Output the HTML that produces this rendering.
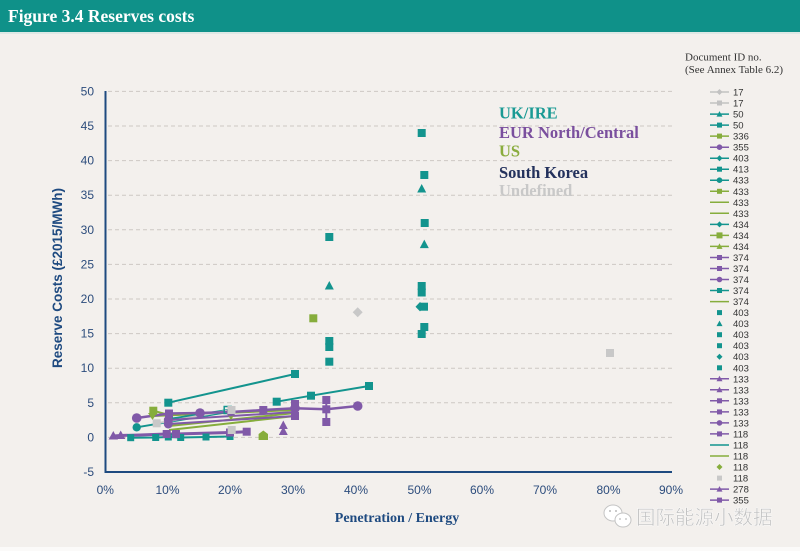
<!DOCTYPE html>
<html>
<head>
<meta charset="utf-8">
<style>
html,body{margin:0;padding:0;background:#f3f0ed;}
body{width:800px;height:551px;overflow:hidden;}
svg{display:block;}
.tk{font-family:"Liberation Sans",sans-serif;font-size:12px;fill:#2c4c7c;}
.lg{font-family:"Liberation Sans",sans-serif;font-size:9.5px;fill:#333;}
.rg{font-family:"Liberation Serif",serif;font-weight:bold;font-size:16.5px;}
</style>
</head>
<body>
<svg width="800" height="551" viewBox="0 0 800 551" xmlns="http://www.w3.org/2000/svg">
<rect x="0" y="0" width="800" height="551" fill="#f3f0ed"/>
<rect x="0" y="0" width="800" height="32" fill="#0f9189"/>
<rect x="0" y="32" width="800" height="2" fill="#dde8e5"/>
<text x="8" y="22" font-family="Liberation Serif, serif" font-weight="bold" font-size="17.5" fill="#ffffff">Figure 3.4 Reserves costs</text>
<rect x="0" y="547" width="800" height="4" fill="#fbfaf9"/>

<!-- gridlines -->
<g stroke="#cdc8c4" stroke-width="1" stroke-dasharray="4 3">
<line x1="108" y1="91.4" x2="672" y2="91.4"/>
<line x1="108" y1="126" x2="672" y2="126"/>
<line x1="108" y1="160.6" x2="672" y2="160.6"/>
<line x1="108" y1="195.2" x2="672" y2="195.2"/>
<line x1="108" y1="229.8" x2="672" y2="229.8"/>
<line x1="108" y1="264.4" x2="672" y2="264.4"/>
<line x1="108" y1="299" x2="672" y2="299"/>
<line x1="108" y1="333.6" x2="672" y2="333.6"/>
<line x1="108" y1="368.2" x2="672" y2="368.2"/>
<line x1="108" y1="402.8" x2="672" y2="402.8"/>
<line x1="108" y1="437.4" x2="672" y2="437.4"/>
</g>

<!-- axes -->
<line x1="105.5" y1="91" x2="105.5" y2="473" stroke="#1e4a80" stroke-width="2"/>
<line x1="104.5" y1="472" x2="672" y2="472" stroke="#1e4a80" stroke-width="2"/>

<!-- y tick labels -->
<g class="tk" text-anchor="end">
<text x="94" y="95.5">50</text>
<text x="94" y="130">45</text>
<text x="94" y="164.6">40</text>
<text x="94" y="199.2">35</text>
<text x="94" y="233.8">30</text>
<text x="94" y="268.4">25</text>
<text x="94" y="303">20</text>
<text x="94" y="337.6">15</text>
<text x="94" y="372.2">10</text>
<text x="94" y="406.8">5</text>
<text x="94" y="441.4">0</text>
<text x="94" y="476">-5</text>
</g>
<!-- x tick labels -->
<g class="tk" text-anchor="middle">
<text x="105.3" y="494">0%</text>
<text x="167.5" y="494">10%</text>
<text x="230" y="494">20%</text>
<text x="293" y="494">30%</text>
<text x="356" y="494">40%</text>
<text x="419.5" y="494">50%</text>
<text x="482" y="494">60%</text>
<text x="545" y="494">70%</text>
<text x="608.5" y="494">80%</text>
<text x="671" y="494">90%</text>
</g>
<text x="397" y="522" text-anchor="middle" font-family="Liberation Serif, serif" font-weight="bold" font-size="14" fill="#1e4a80">Penetration / Energy</text>
<text transform="translate(62,278) rotate(-90)" text-anchor="middle" font-family="Liberation Sans, sans-serif" font-weight="bold" font-size="13.5" fill="#1e4a80">Reserve Costs (£2015/MWh)</text>

<!-- region labels -->
<text class="rg" x="499" y="118.5" fill="#1a9a94">UK/IRE</text>
<text class="rg" x="499" y="138" fill="#7a4f9e">EUR North/Central</text>
<text class="rg" x="499" y="156.5" fill="#8aac3e">US</text>
<text class="rg" x="499" y="178" fill="#23315c">South Korea</text>
<text class="rg" x="499" y="196" fill="#c8c8c8">Undefined</text>

<!-- ===== DATA ===== -->
<g stroke="#86ad3c" stroke-width="2" fill="none">
<polyline points="153,416 295,410"/>
<polyline points="169,426 295,413"/>
<polyline points="169,430 295,416"/>
<polyline points="153.3,410.7 169,415 231,412"/>
</g>
<g stroke="#13948e" stroke-width="2" fill="none">
<polyline points="168.3,402.7 295,374"/>
<polyline points="276.7,401.7 311,395.7 369,386"/>
<polyline points="130.7,437.7 155.7,437.5 168.3,437 180.7,437.5 206,437 230,436.5"/>
<polyline points="136.7,427.3 231,411.5"/>
<polyline points="169,419 228,410"/>
</g>
<polyline points="156.7,423.3 231.5,410" stroke="#c8c8c8" stroke-width="2" fill="none"/>
<g stroke="#8059a8" fill="none">
<polyline stroke-width="3" points="113.3,436 120.7,435.5 140,435 166.7,434 176,434 230,432.5 246.7,431.7"/>
<polyline stroke-width="2.5" points="136.7,418 169,413.5 200,413 231,412 263.3,410 295,408.3 326.3,409.3 357.7,406"/>
<polyline stroke-width="2" points="168.3,420 295,412"/>
<polyline stroke-width="2" points="168.3,424 295,416"/>
<polyline stroke-width="2" points="326.3,400 326.3,422"/>
<polyline stroke-width="2" points="295,404 295,416"/>
<polyline stroke-width="2" points="283.3,425 283.3,431"/>
</g>

<g fill="#13948e">
<rect x="164.3" y="398.7" width="8" height="8"/>
<rect x="291" y="370" width="8" height="8"/>
<rect x="272.7" y="397.7" width="8" height="8"/>
<rect x="307" y="391.7" width="8" height="8"/>
<rect x="365" y="382" width="8" height="8"/>
<rect x="127.2" y="434.2" width="7" height="7"/>
<rect x="152.2" y="434" width="7" height="7"/>
<rect x="164.8" y="433.5" width="7" height="7"/>
<rect x="177.2" y="434" width="7" height="7"/>
<rect x="202.5" y="433.5" width="7" height="7"/>
<rect x="226.5" y="433" width="7" height="7"/>
<circle cx="136.7" cy="427.3" r="4.2"/>
<rect x="325.3" y="233" width="8" height="8"/>
<rect x="325.3" y="337" width="8" height="8"/>
<rect x="325.3" y="343" width="8" height="8"/>
<rect x="325.3" y="357.7" width="8" height="8"/>
<polygon points="329.3,281 333.8,289.5 324.8,289.5"/>
<rect x="417.7" y="129" width="8" height="8"/>
<rect x="420.3" y="171" width="8" height="8"/>
<rect x="420.7" y="219" width="8" height="8"/>
<rect x="417.7" y="282" width="8" height="8"/>
<rect x="417.7" y="288.5" width="8" height="8"/>
<rect x="420" y="302.7" width="8" height="8"/>
<rect x="420.3" y="323" width="8" height="8"/>
<rect x="417.7" y="330" width="8" height="8"/>
<polygon points="421.7,184 426.2,192.5 417.2,192.5"/>
<polygon points="424.3,239.6 428.8,248.1 419.8,248.1"/>
<polygon points="420,302 424.5,306.7 420,311.4 415.5,306.7"/>
</g>
<rect x="224.2" y="406.5" width="7" height="7" fill="none" stroke="#13948e" stroke-width="1.5"/>

<g fill="#86ad3c">
<rect x="149.3" y="406.7" width="8" height="8"/>
<polygon points="148,413 157,413 152.5,420"/>
<polygon points="226.5,413 235.5,413 231,420"/>
<polygon points="263.3,430.5 268,434 268,440 258.6,440 258.6,434"/>
<rect x="309.3" y="314.3" width="8" height="8"/>
</g>

<g fill="#8059a8">
<polygon points="113.3,431 118,439.5 108.6,439.5"/>
<polygon points="120.7,430.5 125.4,439 116,439"/>
<rect x="162.7" y="430" width="8" height="8"/>
<rect x="172" y="430" width="8" height="8"/>
<rect x="226" y="428.5" width="8" height="8"/>
<rect x="242.7" y="427.7" width="8" height="8"/>
<circle cx="136.7" cy="418" r="4.8"/>
<rect x="165" y="409.5" width="8" height="8"/>
<circle cx="200" cy="413" r="4.8"/>
<circle cx="231" cy="412" r="4.5"/>
<rect x="259.3" y="406" width="8" height="8"/>
<circle cx="295" cy="408.3" r="4.8"/>
<rect x="322.3" y="405.3" width="8" height="8"/>
<circle cx="357.7" cy="406" r="4.8"/>
<circle cx="168.3" cy="420" r="4.5"/>
<circle cx="168.3" cy="424" r="4.5"/>
<rect x="322.3" y="396" width="8" height="8"/>
<rect x="322.3" y="418" width="8" height="8"/>
<rect x="291" y="400" width="8" height="8"/>
<rect x="291" y="412" width="8" height="8"/>
<polygon points="283.3,420.5 287.8,429 278.8,429"/>
<polygon points="283.3,426.5 287.8,435 278.8,435"/>
</g>

<g fill="#c8c8c8">
<rect x="152.7" y="419.3" width="8" height="8"/>
<rect x="227.5" y="406" width="8" height="8"/>
<rect x="227.7" y="426" width="8" height="8"/>
<polygon points="357.7,307.3 362.7,312.3 357.7,317.3 352.7,312.3"/>
<rect x="606" y="349" width="8" height="8"/>
</g>

<!-- ===== LEGEND ===== -->
<text x="685" y="60.5" font-family="Liberation Serif, serif" font-size="11" fill="#333">Document ID no.</text>
<text x="685" y="73" font-family="Liberation Serif, serif" font-size="11" fill="#333">(See Annex Table 6.2)</text>

<g class="lg">
<g transform="translate(0,92)"><line x1="710" x2="729" y1="0" y2="0" stroke="#c2c2c2" stroke-width="1.5"/><polygon points="719.5,-3 722.5,0 719.5,3 716.5,0" fill="#c2c2c2"/><text x="733" y="3.5">17</text></g>
<g transform="translate(0,103)"><line x1="710" x2="729" y1="0" y2="0" stroke="#c2c2c2" stroke-width="1.5"/><rect x="717" y="-2.5" width="5" height="5" fill="#c2c2c2"/><text x="733" y="3.5">17</text></g>
<g transform="translate(0,114.1)"><line x1="710" x2="729" y1="0" y2="0" stroke="#13948e" stroke-width="1.5"/><polygon points="719.5,-3 722.5,2.5 716.5,2.5" fill="#13948e"/><text x="733" y="3.5">50</text></g>
<g transform="translate(0,125.1)"><line x1="710" x2="729" y1="0" y2="0" stroke="#13948e" stroke-width="1.5"/><rect x="717" y="-2.5" width="5" height="5" fill="#13948e"/><text x="733" y="3.5">50</text></g>
<g transform="translate(0,136.1)"><line x1="710" x2="729" y1="0" y2="0" stroke="#86ad3c" stroke-width="1.5"/><rect x="717" y="-2.5" width="5" height="5" fill="#86ad3c"/><text x="733" y="3.5">336</text></g>
<g transform="translate(0,147.2)"><line x1="710" x2="729" y1="0" y2="0" stroke="#8059a8" stroke-width="1.5"/><circle cx="719.5" cy="0" r="2.8" fill="#8059a8"/><text x="733" y="3.5">355</text></g>
<g transform="translate(0,158.2)"><line x1="710" x2="729" y1="0" y2="0" stroke="#13948e" stroke-width="1.5"/><polygon points="719.5,-3 722.5,0 719.5,3 716.5,0" fill="#13948e"/><text x="733" y="3.5">403</text></g>
<g transform="translate(0,169.2)"><line x1="710" x2="729" y1="0" y2="0" stroke="#13948e" stroke-width="1.5"/><rect x="717" y="-2.5" width="5" height="5" fill="#13948e"/><text x="733" y="3.5">413</text></g>
<g transform="translate(0,180.2)"><line x1="710" x2="729" y1="0" y2="0" stroke="#13948e" stroke-width="1.5"/><circle cx="719.5" cy="0" r="2.8" fill="#13948e"/><text x="733" y="3.5">433</text></g>
<g transform="translate(0,191.3)"><line x1="710" x2="729" y1="0" y2="0" stroke="#86ad3c" stroke-width="1.5"/><rect x="717" y="-2.5" width="5" height="5" fill="#86ad3c"/><text x="733" y="3.5">433</text></g>
<g transform="translate(0,202.3)"><line x1="710" x2="729" y1="0" y2="0" stroke="#86ad3c" stroke-width="1.5"/><text x="733" y="3.5">433</text></g>
<g transform="translate(0,213.3)"><line x1="710" x2="729" y1="0" y2="0" stroke="#86ad3c" stroke-width="1.5"/><text x="733" y="3.5">433</text></g>
<g transform="translate(0,224.4)"><line x1="710" x2="729" y1="0" y2="0" stroke="#13948e" stroke-width="1.5"/><polygon points="719.5,-3 722.5,0 719.5,3 716.5,0" fill="#13948e"/><text x="733" y="3.5">434</text></g>
<g transform="translate(0,235.4)"><line x1="710" x2="729" y1="0" y2="0" stroke="#86ad3c" stroke-width="1.5"/><rect x="716.5" y="-3" width="6" height="6" fill="#86ad3c"/><text x="733" y="3.5">434</text></g>
<g transform="translate(0,246.4)"><line x1="710" x2="729" y1="0" y2="0" stroke="#86ad3c" stroke-width="1.5"/><polygon points="719.5,-3 722.5,2.5 716.5,2.5" fill="#86ad3c"/><text x="733" y="3.5">434</text></g>
<g transform="translate(0,257.5)"><line x1="710" x2="729" y1="0" y2="0" stroke="#8059a8" stroke-width="1.5"/><rect x="717" y="-2.5" width="5" height="5" fill="#8059a8"/><text x="733" y="3.5">374</text></g>
<g transform="translate(0,268.5)"><line x1="710" x2="729" y1="0" y2="0" stroke="#8059a8" stroke-width="1.5"/><rect x="717" y="-2.5" width="5" height="5" fill="#8059a8"/><text x="733" y="3.5">374</text></g>
<g transform="translate(0,279.5)"><line x1="710" x2="729" y1="0" y2="0" stroke="#8059a8" stroke-width="1.5"/><circle cx="719.5" cy="0" r="2.8" fill="#8059a8"/><text x="733" y="3.5">374</text></g>
<g transform="translate(0,290.5)"><line x1="710" x2="729" y1="0" y2="0" stroke="#13948e" stroke-width="1.5"/><rect x="717" y="-2.5" width="5" height="5" fill="#13948e"/><text x="733" y="3.5">374</text></g>
<g transform="translate(0,301.6)"><line x1="710" x2="729" y1="0" y2="0" stroke="#86ad3c" stroke-width="1.5"/><text x="733" y="3.5">374</text></g>
<g transform="translate(0,312.6)"><rect x="717" y="-2.5" width="5" height="5" fill="#13948e"/><text x="733" y="3.5">403</text></g>
<g transform="translate(0,323.6)"><polygon points="719.5,-3 722.5,2.5 716.5,2.5" fill="#13948e"/><text x="733" y="3.5">403</text></g>
<g transform="translate(0,334.7)"><rect x="717" y="-2.5" width="5" height="5" fill="#13948e"/><text x="733" y="3.5">403</text></g>
<g transform="translate(0,345.7)"><rect x="717" y="-2.5" width="5" height="5" fill="#13948e"/><text x="733" y="3.5">403</text></g>
<g transform="translate(0,356.7)"><polygon points="719.5,-3 722.5,0 719.5,3 716.5,0" fill="#13948e"/><text x="733" y="3.5">403</text></g>
<g transform="translate(0,367.8)"><rect x="717" y="-2.5" width="5" height="5" fill="#13948e"/><text x="733" y="3.5">403</text></g>
<g transform="translate(0,378.8)"><line x1="710" x2="729" y1="0" y2="0" stroke="#8059a8" stroke-width="1.5"/><polygon points="719.5,-3 722.5,2.5 716.5,2.5" fill="#8059a8"/><text x="733" y="3.5">133</text></g>
<g transform="translate(0,389.8)"><line x1="710" x2="729" y1="0" y2="0" stroke="#8059a8" stroke-width="1.5"/><polygon points="719.5,-3 722.5,2.5 716.5,2.5" fill="#8059a8"/><text x="733" y="3.5">133</text></g>
<g transform="translate(0,400.8)"><line x1="710" x2="729" y1="0" y2="0" stroke="#8059a8" stroke-width="1.5"/><rect x="717" y="-2.5" width="5" height="5" fill="#8059a8"/><text x="733" y="3.5">133</text></g>
<g transform="translate(0,411.9)"><line x1="710" x2="729" y1="0" y2="0" stroke="#8059a8" stroke-width="1.5"/><rect x="717" y="-2.5" width="5" height="5" fill="#8059a8"/><text x="733" y="3.5">133</text></g>
<g transform="translate(0,422.9)"><line x1="710" x2="729" y1="0" y2="0" stroke="#8059a8" stroke-width="1.5"/><circle cx="719.5" cy="0" r="2.8" fill="#8059a8"/><text x="733" y="3.5">133</text></g>
<g transform="translate(0,433.9)"><line x1="710" x2="729" y1="0" y2="0" stroke="#8059a8" stroke-width="1.5"/><rect x="717" y="-2.5" width="5" height="5" fill="#8059a8"/><text x="733" y="3.5">118</text></g>
<g transform="translate(0,445)"><line x1="710" x2="729" y1="0" y2="0" stroke="#13948e" stroke-width="1.5"/><text x="733" y="3.5">118</text></g>
<g transform="translate(0,456)"><line x1="710" x2="729" y1="0" y2="0" stroke="#86ad3c" stroke-width="1.5"/><text x="733" y="3.5">118</text></g>
<g transform="translate(0,467)"><polygon points="719.5,-3 722.5,0 719.5,3 716.5,0" fill="#86ad3c"/><text x="733" y="3.5">118</text></g>
<g transform="translate(0,478.1)"><rect x="717" y="-2.5" width="5" height="5" fill="#c8c8c8"/><text x="733" y="3.5">118</text></g>
<g transform="translate(0,489.1)"><line x1="710" x2="729" y1="0" y2="0" stroke="#8059a8" stroke-width="1.5"/><polygon points="719.5,-3 722.5,2.5 716.5,2.5" fill="#8059a8"/><text x="733" y="3.5">278</text></g>
<g transform="translate(0,500.1)"><line x1="710" x2="729" y1="0" y2="0" stroke="#8059a8" stroke-width="1.5"/><rect x="717" y="-2.5" width="5" height="5" fill="#8059a8"/><text x="733" y="3.5">355</text></g>
</g>

<!-- watermark -->
<g>
<ellipse cx="613" cy="513" rx="9" ry="8" fill="#ffffff" stroke="#c4c4c4" stroke-width="1"/>
<ellipse cx="623" cy="520" rx="8" ry="7" fill="#ffffff" stroke="#c4c4c4" stroke-width="1"/>
<circle cx="610" cy="511" r="1" fill="#bbb"/><circle cx="616" cy="511" r="1" fill="#bbb"/>
<circle cx="620" cy="519" r="0.9" fill="#bbb"/><circle cx="626" cy="519" r="0.9" fill="#bbb"/>
<text x="636" y="524" font-family="Noto Sans CJK SC, WenQuanYi Zen Hei, sans-serif" font-size="19.5" fill="#c2c2c2" stroke="#ffffff" stroke-width="0.4">国际能源小数据</text>
</g>
</svg>
</body>
</html>
